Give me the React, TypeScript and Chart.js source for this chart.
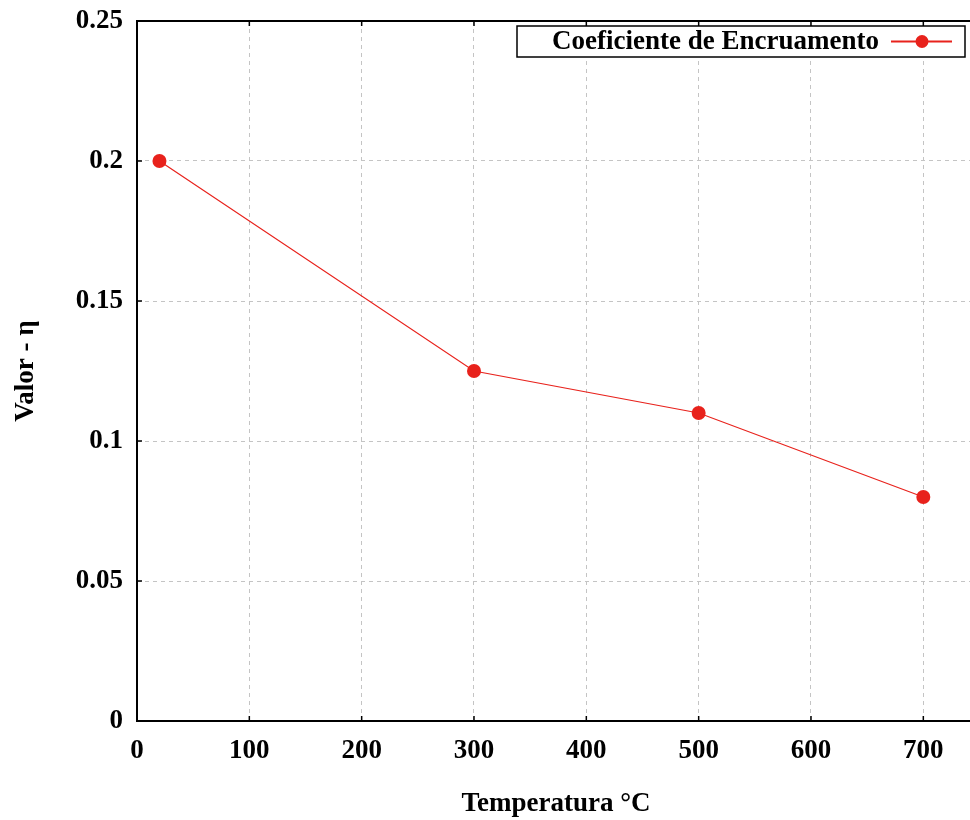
import React, { useEffect, useRef } from "react";
import { Chart, registerables } from "chart.js";

Chart.register(...registerables);

const temperatures = [20, 300, 500, 700];
const coefficients = [0.2, 0.125, 0.11, 0.08];
const xTickValues = [0, 100, 200, 300, 400, 500, 600, 700];
const yTickValues = [0, 0.05, 0.1, 0.15, 0.2, 0.25];
const seriesLabel = "Coeficiente de Encruamento";
const xTitle = "Temperatura °C";
const yTitle = "Valor - η";

const FONT = "'Liberation Serif', 'Times New Roman', serif";
const FONT_SIZE = 27;
const RED = "#e8221c";

// Frame, inward tick marks and a legend with the sample to the right of the text
const framePlugin = {
  id: "frame",
  afterDatasetsDraw(chart: any) {
    const { ctx, chartArea, scales } = chart;
    const { left, top, right, bottom } = chartArea;
    ctx.save();
    ctx.strokeStyle = "#000";
    ctx.lineWidth = 2;
    ctx.beginPath();
    ctx.moveTo(right + 2, top);
    ctx.lineTo(left, top);
    ctx.lineTo(left, bottom);
    ctx.lineTo(right + 2, bottom);
    ctx.stroke();
    ctx.lineWidth = 1.5;
    const xs = scales.x;
    xs.ticks.forEach((t: any) => {
      const px = xs.getPixelForValue(t.value);
      if (px <= left + 1) return;
      ctx.beginPath();
      ctx.moveTo(px, top);
      ctx.lineTo(px, top + 5);
      ctx.moveTo(px, bottom);
      ctx.lineTo(px, bottom - 5);
      ctx.stroke();
    });
    const ys = scales.y;
    ys.ticks.forEach((t: any) => {
      const py = ys.getPixelForValue(t.value);
      if (py >= bottom - 1 || py <= top + 1) return;
      ctx.beginPath();
      ctx.moveTo(left, py);
      ctx.lineTo(left + 5, py);
      ctx.stroke();
    });

    // legend box
    const bx = 517, by = 26, bw = 448, bh = 31;
    ctx.fillStyle = "#fff";
    ctx.fillRect(bx, by, bw, bh);
    ctx.lineWidth = 1.5;
    ctx.strokeStyle = "#000";
    ctx.strokeRect(bx, by, bw, bh);
    ctx.fillStyle = "#000";
    ctx.font = `bold ${FONT_SIZE}px ${FONT}`;
    ctx.textBaseline = "middle";
    ctx.textAlign = "left";
    ctx.fillText(seriesLabel, 552, by + bh / 2 + 1);
    ctx.strokeStyle = RED;
    ctx.lineWidth = 2;
    ctx.beginPath();
    ctx.moveTo(891, by + bh / 2);
    ctx.lineTo(952, by + bh / 2);
    ctx.stroke();
    ctx.fillStyle = RED;
    ctx.beginPath();
    ctx.arc(922, by + bh / 2, 6.5, 0, Math.PI * 2);
    ctx.fill();
    ctx.restore();
  },
};

export default function App() {
  const ref = useRef<HTMLCanvasElement | null>(null);

  useEffect(() => {
    if (!ref.current) return;
    const chart = new Chart(ref.current, {
      type: "line",
      data: {
        datasets: [
          {
            label: seriesLabel,
            data: temperatures.map((t, i) => ({ x: t, y: coefficients[i] })),
            borderColor: RED,
            backgroundColor: RED,
            borderWidth: 1.2,
            pointRadius: 7,
            pointHoverRadius: 7,
            pointBorderWidth: 0,
            tension: 0,
          },
        ],
      },
      plugins: [framePlugin],
      options: {
        animation: false,
        responsive: false,
        maintainAspectRatio: false,
        layout: { padding: { top: 21, right: 0, left: 0, bottom: 0 } },
        plugins: {
          legend: { display: false },
          tooltip: { enabled: false },
        },
        scales: {
          x: {
            type: "linear",
            min: 0,
            max: 746,
            afterBuildTicks: (s: any) => {
              s.ticks = xTickValues.map((v) => ({ value: v }));
            },
            afterFit: (s: any) => {
              s.height = 99;
              s.paddingRight = 0;
            },
            ticks: {
              color: "#000",
              padding: 14,
              font: { family: FONT, size: FONT_SIZE, weight: "bold" },
            },
            grid: {
              color: (c: any) => (c.tick && c.tick.value === 0 ? "rgba(0,0,0,0)" : "#c4c4c4"),
              lineWidth: 1,
              drawTicks: false,
            },
            border: { display: false, dash: [4, 4] },
            title: {
              display: true,
              text: xTitle,
              color: "#000",
              padding: { top: 12, bottom: 0 },
              font: { family: FONT, size: FONT_SIZE, weight: "bold" },
            },
          },
          y: {
            type: "linear",
            min: 0,
            max: 0.25,
            afterBuildTicks: (s: any) => {
              s.ticks = yTickValues.map((v) => ({ value: v }));
            },
            afterFit: (s: any) => {
              s.width = 137;
              s.paddingTop = 0;
              s.paddingBottom = 0;
            },
            ticks: {
              color: "#000",
              padding: 14,
              font: { family: FONT, size: FONT_SIZE, weight: "bold" },
              callback: (v: any) => String(Number(v)),
            },
            grid: {
              color: (c: any) =>
                c.tick && (c.tick.value === 0 || c.tick.value === 0.25) ? "rgba(0,0,0,0)" : "#c4c4c4",
              lineWidth: 1,
              drawTicks: false,
            },
            border: { display: false, dash: [4, 4] },
            title: {
              display: true,
              text: yTitle,
              color: "#000",
              padding: { top: 10, bottom: 0 },
              font: { family: FONT, size: FONT_SIZE, weight: "bold" },
            },
          },
        },
      },
    } as any);
    return () => chart.destroy();
  }, []);

  return (
    <div style={{ position: "absolute", left: 0, top: 0, width: 970, height: 820, background: "#fff", overflow: "hidden" }}>
      <canvas ref={ref} width={982} height={820} style={{ display: "block" }} />
    </div>
  );
}
